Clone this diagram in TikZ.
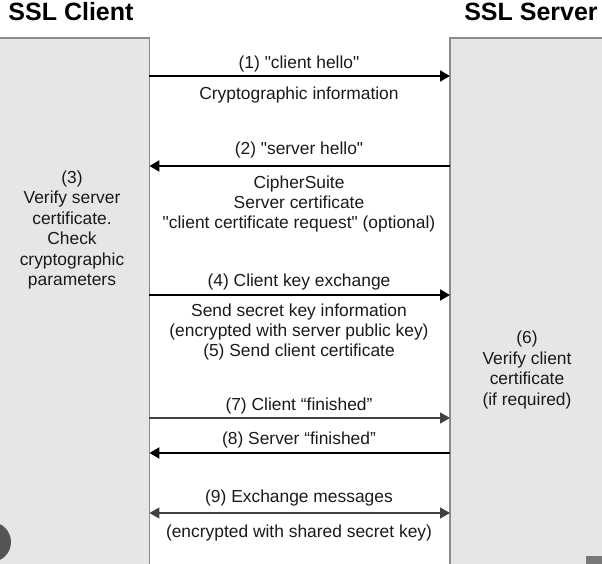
\documentclass[tikz,border=0pt]{standalone}
\usepackage{fontspec}
\setmainfont{Liberation Sans}
\usetikzlibrary{arrows.meta,positioning}
\definecolor{sslPanel}{HTML}{E6E6E6}
\definecolor{sslEdge}{HTML}{8C8C8C}
\definecolor{sslInk}{HTML}{1A1A1A}
\newcommand{\sq}{\textquotedbl{}}

\begin{document}
\begin{tikzpicture}[x=1pt,y=-1pt,
    font=\fontsize{17.4}{20.4}\selectfont,text=sslInk,
    panel/.style={fill=sslPanel,draw=none,inner sep=0pt,anchor=north west},
    side/.style={draw=sslEdge,line width=1.2pt},
    title/.style={font=\fontsize{25}{30}\selectfont\bfseries,text=black},
    msg/.style={align=center,inner sep=0pt},
    heavy/.style={draw=black,line width=2pt,-{Triangle[length=10pt,width=11pt]}},
    light/.style={draw=black!75,line width=1.1pt,-{Triangle[length=10pt,width=11pt]}},
    twoway/.style={light,{Triangle[length=10pt,width=11pt]}-{Triangle[length=10pt,width=11pt]}}]
  \useasboundingbox (0,0) rectangle (602,564);

  \node[panel,minimum width=149pt,minimum height=526pt] (client) at (0,38) {};
  \node[panel,minimum width=152pt,minimum height=526pt] (server) at (450,38) {};
  \draw[side] (client.north west) -- (client.north east) -- (client.south east);
  \draw[side] (server.north east) -- (server.north west) -- (server.south west);

  \node[title] (clTitle) at (71,12) {SSL Client};
  \node[title] (svTitle) at (531,12) {SSL Server};

  \foreach \y/\k in {76/1,166/2,295/4,418/7,453/8,513/9} {
    \coordinate (c\k) at (client.east |- 0,\y);
    \coordinate (s\k) at (server.west |- 0,\y);
  }

  \draw[heavy] (c1) -- (s1);
  \draw[heavy] (s2) -- (c2);
  \draw[heavy] (c4) -- (s4);
  \draw[light] (c7) -- (s7);
  \draw[heavy] (s8) -- (c8);
  \draw[twoway] (c9) -- (s9);

  \node[msg] (m1) at (299,64) {(1) \sq client hello\sq};
  \node[msg] (m1b) at (299,95) {Cryptographic information};
  \node[msg] (m2) at (299,150) {(2) \sq server hello\sq};
  \node[msg] (m2b) at (299,204) {CipherSuite\\Server certificate\\\sq client certificate request\sq\ (optional)};
  \node[msg] (m4) at (299,282) {(4) Client key exchange};
  \node[msg] (m4b) at (299,332) {Send secret key information\\(encrypted with server public key)\\(5) Send client certificate};
  \node[msg] (m7) at (299,406) {(7) Client “finished”};
  \node[msg] (m8) at (299,440) {(8) Server “finished”};
  \node[msg] (m9) at (299,498) {(9) Exchange messages};
  \node[msg] (m9b) at (299,533) {(encrypted with shared secret key)};

  \node[msg] (verifySrv) at (72,230) {(3)\\Verify server\\certificate.\\Check\\cryptographic\\parameters};
  \node[msg] (verifyCli) at (527,370) {(6)\\Verify client\\certificate\\(if required)};

  \fill[black!67] (-9,542) circle[radius=20pt];
  \fill[black!53] (586,556) rectangle (602,564);
\end{tikzpicture}
\end{document}
